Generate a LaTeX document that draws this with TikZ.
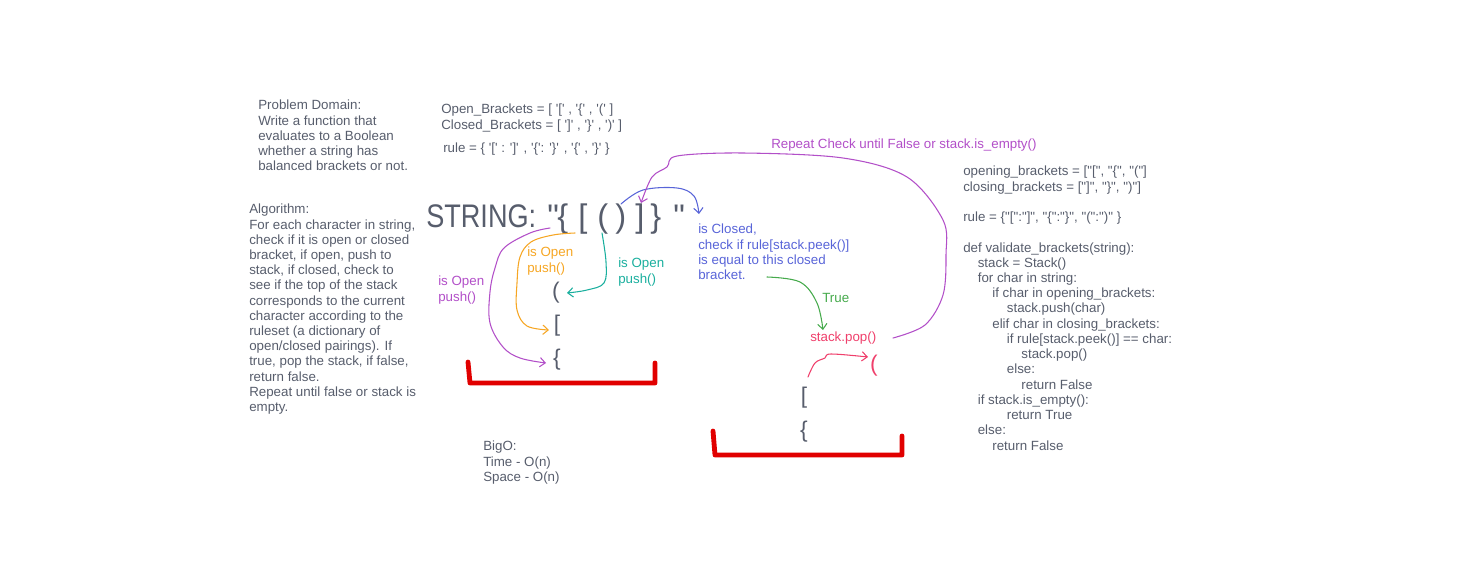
\documentclass[tikz,border=0pt]{standalone}
\usepackage{fontspec}
\usepackage{graphicx}
\setmainfont{Liberation Sans}[Ligatures=TeXOff]
\usetikzlibrary{arrows.meta}
\definecolor{txtgray}{HTML}{575D6C}
\definecolor{purp}{HTML}{B24FC8}
\definecolor{orng}{HTML}{F6A623}
\definecolor{teal2}{HTML}{1AAF9E}
\definecolor{blu}{HTML}{5864D8}
\definecolor{grn}{HTML}{46AA4C}
\definecolor{pnk}{HTML}{EF3F6B}
\definecolor{redc}{HTML}{E10000}
\newlength\pxu
\setlength\pxu{0.75pt}
\newcommand{\ind}[1]{\hspace*{#1\dimexpr 10.9pt\relax}}
\newcommand{\gl}[2]{\makebox[#1\pxu][l]{#2}}
\begin{document}
\begin{tikzpicture}[x=0.75pt,y=-0.75pt,
  txt/.style={anchor=north west,inner sep=0pt,align=left,font=\fontsize{10}{11.4}\selectfont,text=txtgray},
  hand/.style={line width=0.8pt,line cap=round,line join=round},
  barb/.style={-{Straight Barb[length=4pt,width=7pt]}},
  redbar/.style={line width=3.6pt,draw=redc,line cap=round,line join=round},
  stk/.style={inner sep=0pt,font=\fontsize{17}{17}\selectfont,text=txtgray}]
\useasboundingbox (0,0) rectangle (1470,586);

% text blocks
\node[txt] (pd) at (258,100) {Problem Domain:\\Write a function that\\evaluates to a Boolean\\whether a string has\\balanced brackets or not.};
\node[txt] (ob) at (441,104) {Open\_Brackets = [ '[' , '\{' , '(' ]\\Closed\_Brackets = [ ']' , '\}' , ')' ]};
\node[txt] (rl) at (443,143) {rule = \{ '[' : ']' , '\{': '\}' , '\{' , '\}' \}};
\node[txt] (alg) at (249,204) {Algorithm:\\For each character in string,\\check if it is open or closed\\bracket, if open, push to\\stack, if closed, check to\\see if the top of the stack\\corresponds to the current\\character according to the\\ruleset (a dictionary of\\open/closed pairings). If\\true, pop the stack, if false,\\return false.\\Repeat until false or stack is\\empty.};
\node[txt] (bigo) at (483,441) {BigO:\\Time - O(n)\\Space - O(n)};
\node[txt,font=\fontsize{10}{11.42}\selectfont] (code) at (963,166) {opening\_brackets = ["[", "\{", "("]\\
closing\_brackets = ["]", "\}", ")"]\\
\mbox{}\\
rule = \{"[":"]", "\{":"\}", "(":")" \}\\
\mbox{}\\
def validate\_brackets(string):\\
\ind{1}stack = Stack()\\
\ind{1}for char in string:\\
\ind{2}if char in opening\_brackets:\\
\ind{3}stack.push(char)\\
\ind{2}elif char in closing\_brackets:\\
\ind{3}if rule[stack.peek()] == char:\\
\ind{4}stack.pop()\\
\ind{3}else:\\
\ind{4}return False\\
\ind{1}if stack.is\_empty():\\
\ind{3}return True\\
\ind{1}else:\\
\ind{2}return False};

% big string
\node[anchor=west,inner sep=0pt,font=\fontsize{24.5}{25}\selectfont,text=txtgray] (str) at (426,219) {\gl{121}{\scalebox{0.83}[1]{STRING:}}\gl{10}{"}\gl{21}{\{}\gl{19}{[}\gl{18}{(}\gl{20}{)}\gl{15}{]}\gl{23}{\}}"};

% coloured labels
\node[txt,text=purp] (lp) at (438,276) {is Open\\push()};
\node[txt,text=orng] (lo) at (527,247) {is Open\\push()};
\node[txt,text=teal2] (lt) at (618,258) {is Open\\push()};
\node[txt,text=blu] (lc) at (698,224) {is Closed,\\check if rule[stack.peek()]\\is equal to this closed\\bracket.};
\node[txt,text=grn] (ltrue) at (822,293) {True};
\node[txt,text=pnk] (lpop) at (810,332) {stack.pop()};
\node[txt,text=purp] (lrep) at (771,139) {Repeat Check until False or stack.is\_empty()};

% left stack
\node[stk] (s1) at (556,293) {(};
\node[stk] (s2) at (557,326) {[};
\node[stk] (s3) at (557,360) {\{};
% right stack
\node[stk,text=pnk] (r1) at (874,366) {(};
\node[stk] (r2) at (804,398) {[};
\node[stk] (r3) at (804,432) {\{};

% red containers
\draw[redbar] (468,362) -- (470,383) -- (655,383) -- (655,363);
\draw[redbar] (713,431) -- (715,455) -- (902,455) -- (902,436);

% connector endpoints
\coordinate (pS) at (550,228);  \coordinate (pE) at (546,363);
\coordinate (oS) at (575,233);  \coordinate (oE) at (549,330);
\coordinate (tS) at (602,233);  \coordinate (tE) at (567,293);
\coordinate (bS) at (621,204);  \coordinate (bE) at (699,214);
\coordinate (gS) at (767,277);  \coordinate (gE) at (823,330);
\coordinate (kS) at (808,377);  \coordinate (kE) at (868,357);
\coordinate (rS) at (893,338);  \coordinate (rE) at (641,203);

\draw[hand,purp,barb] plot[smooth,tension=0.6] coordinates {(pS) (530,233) (504,248) (495,268) (490,292) (490,323) (503,347) (520,358) (pE)};
\draw[hand,orng,barb] plot[smooth,tension=0.6] coordinates {(oS) (553,235) (531,242) (520,257) (517,283) (517,310) (527,326) (oE)};
\draw[hand,teal2,barb] plot[smooth,tension=0.6] coordinates {(tS) (606,262) (604,283) (587,290) (tE)};
\draw[hand,blu,barb] plot[smooth,tension=0.6] coordinates {(bS) (643,190) (677,188) (694,196) (bE)};
\draw[hand,grn,barb] plot[smooth,tension=0.6] coordinates {(gS) (800,282) (817,303) (gE)};
\draw[hand,pnk,barb] plot[smooth,tension=0.6] coordinates {(kS) (815,363) (825,358) (831,354) (kE)};
\draw[hand,purp,barb] plot[smooth,tension=0.55] coordinates {(rS) (925,325) (943,295) (946,255) (943,220) (907,177) (843,158) (743,153) (677,156) (667,167) (652,177) (rE)};
\end{tikzpicture}
\end{document}
